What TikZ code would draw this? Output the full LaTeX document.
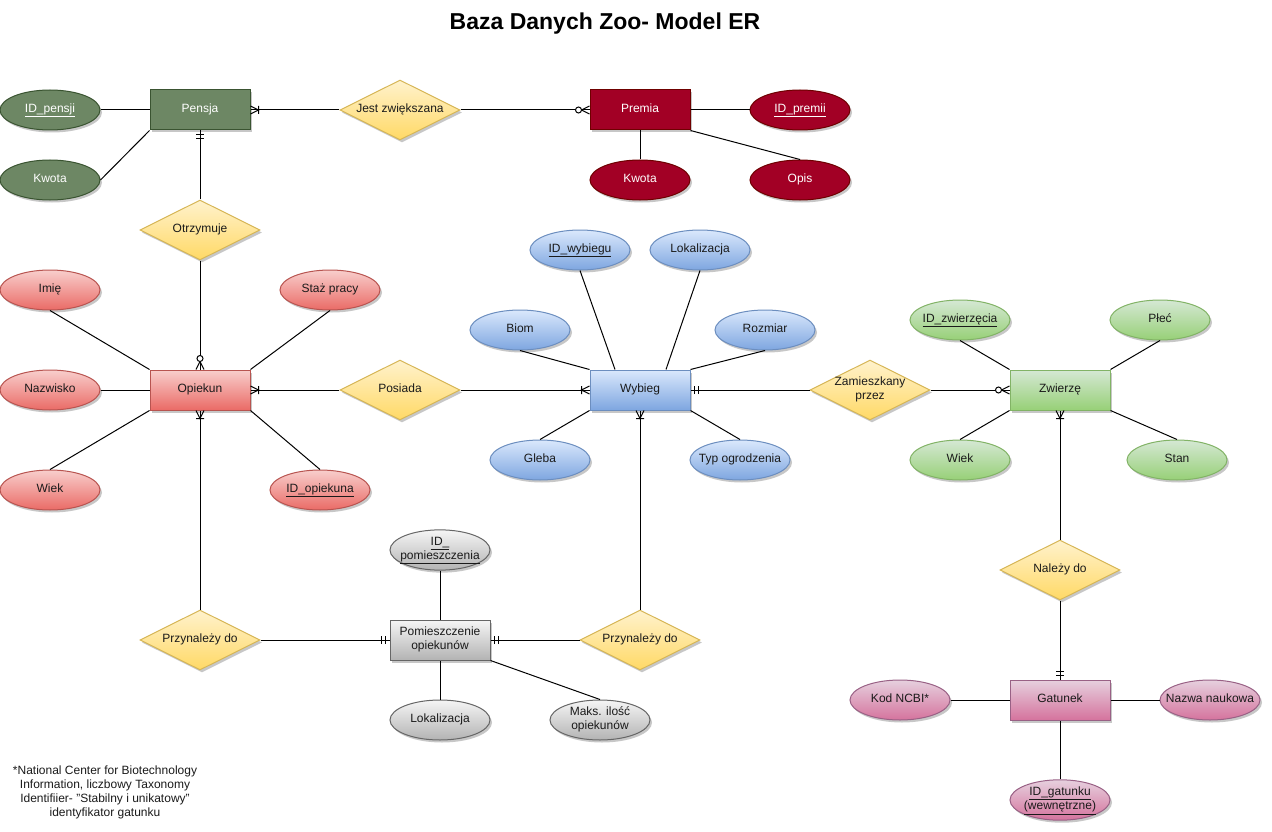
\documentclass[tikz,border=0pt]{standalone}
\usepackage{fontspec}
\setmainfont{Liberation Sans}
\usetikzlibrary{shapes.geometric,shadows}

\definecolor{dgF}{HTML}{6D8764}\definecolor{dgD}{HTML}{3A5431}
\definecolor{crF}{HTML}{A20025}\definecolor{crD}{HTML}{6F0000}
\definecolor{rdT}{HTML}{F8CECC}\definecolor{rdB}{HTML}{EA6B66}\definecolor{rdD}{HTML}{B85450}
\definecolor{blT}{HTML}{DAE8FC}\definecolor{blB}{HTML}{7EA6E0}\definecolor{blD}{HTML}{6C8EBF}
\definecolor{gnT}{HTML}{D5E8D4}\definecolor{gnB}{HTML}{97D077}\definecolor{gnD}{HTML}{82B366}
\definecolor{gyT}{HTML}{F5F5F5}\definecolor{gyB}{HTML}{B3B3B3}\definecolor{gyD}{HTML}{666666}
\definecolor{pkT}{HTML}{E6D0DE}\definecolor{pkB}{HTML}{D5739D}\definecolor{pkD}{HTML}{996185}
\definecolor{ylT}{HTML}{FFF2CC}\definecolor{ylB}{HTML}{FFD966}\definecolor{ylD}{HTML}{D6B656}
\definecolor{txt}{HTML}{1A1A1A}

\newcommand\zw[1]{\makebox[0pt]{\raisebox{1.5pt}{\begin{tabular}{@{}c@{}}#1\end{tabular}}}}

% ER markers: one-or-many, zero-or-many, mandatory-one
\pgfdeclarearrow{
  name = ERom,
  setup code = {
    \pgfarrowssettipend{0pt}
    \pgfarrowssetlineend{0pt}
    \pgfarrowssetbackend{-8pt}
    \pgfarrowshullpoint{0pt}{4pt}
    \pgfarrowshullpoint{0pt}{-4pt}
    \pgfarrowshullpoint{-8pt}{4pt}
    \pgfarrowshullpoint{-8pt}{-4pt}
  },
  drawing code = {
    \pgfsetdash{}{0pt}
    \pgfpathmoveto{\pgfqpoint{0pt}{4pt}}
    \pgfpathlineto{\pgfqpoint{-8pt}{0pt}}
    \pgfpathlineto{\pgfqpoint{0pt}{-4pt}}
    \pgfpathmoveto{\pgfqpoint{-8pt}{4pt}}
    \pgfpathlineto{\pgfqpoint{-8pt}{-4pt}}
    \pgfusepathqstroke
  },
}
\pgfdeclarearrow{
  name = ERzm,
  setup code = {
    \pgfarrowssettipend{0pt}
    \pgfarrowssetlineend{0pt}
    \pgfarrowssetbackend{-14pt}
    \pgfarrowshullpoint{0pt}{4pt}
    \pgfarrowshullpoint{0pt}{-4pt}
    \pgfarrowshullpoint{-14pt}{3pt}
    \pgfarrowshullpoint{-14pt}{-3pt}
  },
  drawing code = {
    \pgfsetdash{}{0pt}
    \pgfpathmoveto{\pgfqpoint{0pt}{4pt}}
    \pgfpathlineto{\pgfqpoint{-8pt}{0pt}}
    \pgfpathlineto{\pgfqpoint{0pt}{-4pt}}
    \pgfusepathqstroke
    \pgfsetfillcolor{white}
    \pgfpathcircle{\pgfqpoint{-11pt}{0pt}}{3pt}
    \pgfusepathqfillstroke
  },
}
\pgfdeclarearrow{
  name = ERmo,
  setup code = {
    \pgfarrowssettipend{0pt}
    \pgfarrowssetlineend{0pt}
    \pgfarrowssetbackend{-8pt}
    \pgfarrowshullpoint{0pt}{4pt}
    \pgfarrowshullpoint{0pt}{-4pt}
    \pgfarrowshullpoint{-8pt}{4pt}
    \pgfarrowshullpoint{-8pt}{-4pt}
  },
  drawing code = {
    \pgfsetdash{}{0pt}
    \pgfpathmoveto{\pgfqpoint{-4pt}{4pt}}
    \pgfpathlineto{\pgfqpoint{-4pt}{-4pt}}
    \pgfpathmoveto{\pgfqpoint{-8pt}{4pt}}
    \pgfpathlineto{\pgfqpoint{-8pt}{-4pt}}
    \pgfusepathqstroke
  },
}

\tikzset{
  shd/.style={drop shadow={shadow xshift=2pt,shadow yshift=-2.5pt,opacity=0.22,fill=black}},
  basefont/.style={font=\fontsize{12}{14}\selectfont, text=txt},
  entbox/.style={rectangle, minimum width=100pt, minimum height=40pt, inner sep=0pt, line width=1pt, basefont, shd},
  attrbox/.style={ellipse, minimum width=100pt, minimum height=40pt, inner sep=0pt, line width=1pt, basefont, shd},
  relbox/.style={diamond, minimum width=120pt, minimum height=60pt, inner sep=0pt, line width=1pt, draw=ylD, top color=ylT, bottom color=ylB, basefont, shd},
  darkg/.style={draw=dgD, fill=dgF, text=white},
  crim/.style={draw=crD, fill=crF, text=white},
  redg/.style={draw=rdD, top color=rdT, bottom color=rdB},
  blueg/.style={draw=blD, top color=blT, bottom color=blB},
  greeng/.style={draw=gnD, top color=gnT, bottom color=gnB},
  grayg/.style={draw=gyD, top color=gyT, bottom color=gyB},
  pinkg/.style={draw=pkD, top color=pkT, bottom color=pkB},
  conn/.style={line width=1pt, draw=black},
}

\begin{document}
\begin{tikzpicture}[x=1pt,y=-1pt]
\useasboundingbox (0,0) rectangle (1272,832);

% title and note
\node[font=\fontsize{23}{27}\selectfont\bfseries, text=black, anchor=base] (title) at (605,30) {Baza Danych Zoo- Model ER};
\node[basefont, align=center] (note) at (105,792) {*National Center for Biotechnology\\Information, liczbowy Taxonomy\\Identifiier- "Stabilny i unikatowy"\\identyfikator gatunku};

% Pensja / Premia
\node[entbox, darkg] (pensja) at (200,110) {\zw{Pensja}};
\node[attrbox, darkg] (idpensji) at (50,110) {\zw{\underline{ID\_pensji}}};
\node[attrbox, darkg] (kwota1) at (50,180) {\zw{Kwota}};
\node[relbox] (jest) at (400,110) {\zw{Jest zwiększana}};
\node[entbox, crim] (premia) at (640,110) {\zw{Premia}};
\node[attrbox, crim] (idpremii) at (800,110) {\zw{\underline{ID\_premii}}};
\node[attrbox, crim] (kwota2) at (640,180) {\zw{Kwota}};
\node[attrbox, crim] (opis) at (800,180) {\zw{Opis}};
\node[relbox] (otrz) at (200,230) {\zw{Otrzymuje}};

% Opiekun
\node[entbox, redg] (opiekun) at (200,390) {\zw{Opiekun}};
\node[attrbox, redg] (imie) at (50,290) {\zw{Imię}};
\node[attrbox, redg] (staz) at (330,290) {\zw{Staż pracy}};
\node[attrbox, redg] (nazwisko) at (50,390) {\zw{Nazwisko}};
\node[attrbox, redg] (wiek1) at (50,490) {\zw{Wiek}};
\node[attrbox, redg] (idop) at (320,490) {\zw{\underline{ID\_opiekuna}}};
\node[relbox] (posiada) at (400,390) {\zw{Posiada}};

% Wybieg
\node[entbox, blueg] (wybieg) at (640,390) {\zw{Wybieg}};
\node[attrbox, blueg] (idwyb) at (580,250) {\zw{\underline{ID\_wybiegu}}};
\node[attrbox, blueg] (lok1) at (700,250) {\zw{Lokalizacja}};
\node[attrbox, blueg] (biom) at (520,330) {\zw{Biom}};
\node[attrbox, blueg] (rozmiar) at (765,330) {\zw{Rozmiar}};
\node[attrbox, blueg] (gleba) at (540,460) {\zw{Gleba}};
\node[attrbox, blueg] (typ) at (740,460) {\zw{Typ ogrodzenia}};
\node[relbox] (zam) at (870,390) {\zw{Zamieszkany\\przez}};

% Zwierze
\node[entbox, greeng] (zwierze) at (1060,390) {\zw{Zwierzę}};
\node[attrbox, greeng] (idzw) at (960,320) {\zw{\underline{ID\_zwierzęcia}}};
\node[attrbox, greeng] (plec) at (1160,320) {\zw{Płeć}};
\node[attrbox, greeng] (wiek2) at (960,460) {\zw{Wiek}};
\node[attrbox, greeng] (stan) at (1177,460) {\zw{Stan}};
\node[relbox] (nalezy) at (1060,570) {\zw{Należy do}};

% Gatunek
\node[entbox, pinkg] (gatunek) at (1060,700) {\zw{Gatunek}};
\node[attrbox, pinkg] (kod) at (900,700) {\zw{Kod NCBI*}};
\node[attrbox, pinkg] (nazwa) at (1210,700) {\zw{Nazwa naukowa}};
\node[attrbox, pinkg] (idgat) at (1060,800) {\zw{\underline{ID\_gatunku}\\\underline{(wewnętrzne)}}};

% Pomieszczenie
\node[relbox] (przL) at (200,640) {\zw{Przynależy do}};
\node[relbox] (przR) at (640,640) {\zw{Przynależy do}};
\node[entbox, grayg] (pom) at (440,640) {\zw{Pomieszczenie\\opiekunów}};
\node[attrbox, grayg] (idpom) at (440,550) {\zw{\underline{ID\_}\\\underline{pomieszczenia}}};
\node[attrbox, grayg] (lok2) at (440,720) {\zw{Lokalizacja}};
\node[attrbox, grayg] (maks) at (600,720) {\zw{Maks. ilość\\opiekunów}};

% connectors
\draw[conn] (idpensji) -- (pensja);
\draw[conn] (kwota1.east) -- (pensja.south west);
\draw[conn,-ERom] (jest) -- (pensja);
\draw[conn,-ERzm] (jest) -- (premia);
\draw[conn] (premia) -- (idpremii);
\draw[conn] (premia) -- (kwota2);
\draw[conn] (premia.south east) -- (opis.north);
\draw[conn,-ERmo] (otrz) -- (pensja);
\draw[conn,-ERzm] (otrz) -- (opiekun);

\draw[conn] (imie.south) -- (opiekun.north west);
\draw[conn] (staz.south) -- (opiekun.north east);
\draw[conn] (nazwisko) -- (opiekun);
\draw[conn] (wiek1.north) -- (opiekun.south west);
\draw[conn] (idop.north) -- (opiekun.south east);
\draw[conn,-ERom] (posiada) -- (opiekun);
\draw[conn,-ERom] (posiada) -- (wybieg);

\draw[conn] (idwyb.south) -- ([xshift=-25pt]wybieg.north);
\draw[conn] (lok1.south) -- ([xshift=26pt]wybieg.north);
\draw[conn] (biom.south) -- (wybieg.north west);
\draw[conn] (rozmiar.south) -- (wybieg.north east);
\draw[conn] (gleba.north) -- (wybieg.south west);
\draw[conn] (typ.north) -- (wybieg.south east);
\draw[conn,-ERmo] (zam) -- (wybieg);
\draw[conn,-ERzm] (zam) -- (zwierze);

\draw[conn] (idzw.south) -- (zwierze.north west);
\draw[conn] (plec.south) -- (zwierze.north east);
\draw[conn] (wiek2.north) -- (zwierze.south west);
\draw[conn] (stan.north) -- (zwierze.south east);
\draw[conn,-ERom] (nalezy) -- (zwierze);
\draw[conn,-ERmo] (nalezy) -- (gatunek);

\draw[conn] (kod) -- (gatunek);
\draw[conn] (nazwa) -- (gatunek);
\draw[conn] (idgat) -- (gatunek);

\draw[conn,-ERom] (przL) -- (opiekun);
\draw[conn,-ERmo] (przL) -- (pom);
\draw[conn,-ERom] (przR) -- (wybieg);
\draw[conn,-ERmo] (przR) -- (pom);
\draw[conn] (idpom) -- (pom);
\draw[conn] (lok2) -- (pom);
\draw[conn] (pom.south east) -- (maks.north);
\end{tikzpicture}
\end{document}
